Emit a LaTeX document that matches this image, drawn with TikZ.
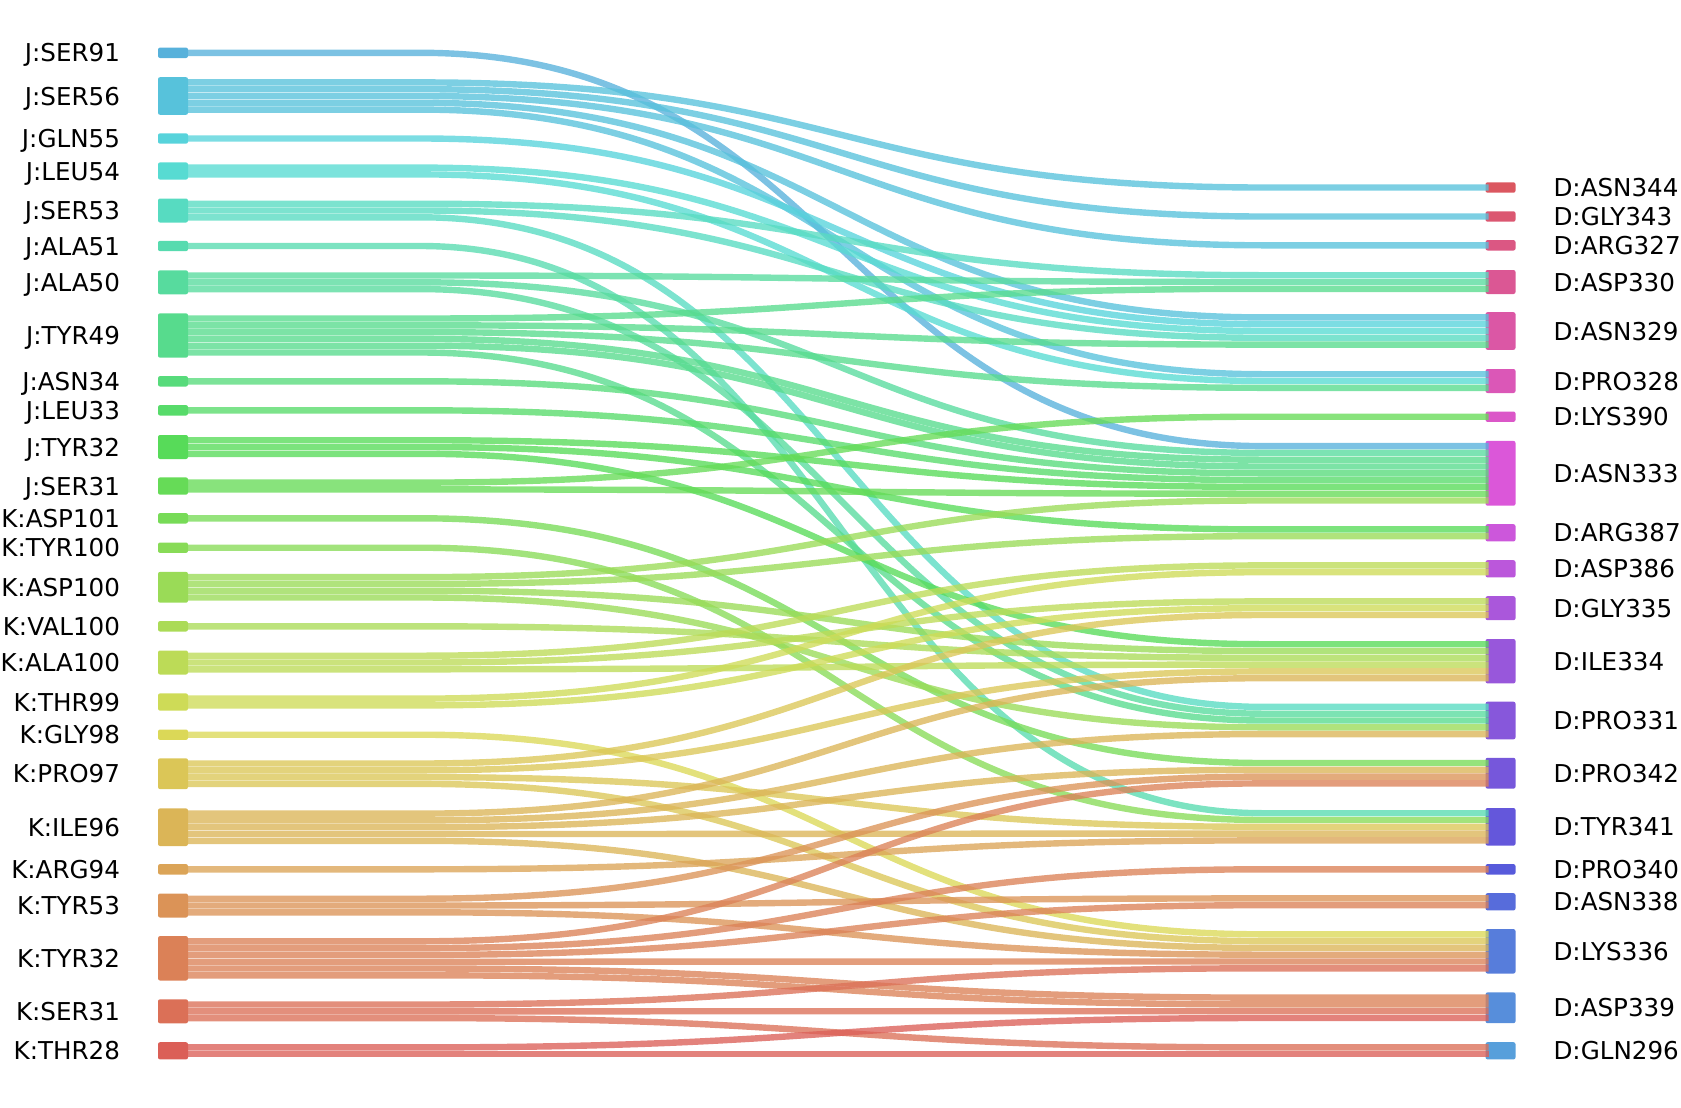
\documentclass[tikz,border=0pt]{standalone}
\usepackage{fontspec}
\setmainfont{DejaVu Sans}
\usetikzlibrary{positioning}

\tikzset{
  hue/.code={\pgfmathsetmacro\huedeg{3.6+7.826*#1}%
    \convertcolorspec{Hsb}{\huedeg,0.605,0.86}{rgb}\huergb%
    \definecolor{huecol}{rgb}{\huergb}},
}

\begin{document}
\begin{tikzpicture}[x=0.5pt, y=-0.5pt,
    bar/.style={rectangle, inner sep=0pt, outer sep=0pt, minimum width=15pt, minimum height={3.4pt*#1+1.8pt}, rounded corners=1pt, fill=huecol},
    resname/.style={inner sep=0pt, text height=9pt, text depth=0pt, font=\fontsize{12.3}{14}\selectfont},
    strand/.style={hue=#1, draw=huecol, draw opacity=0.78, line width=3.2pt,
      to path={-- ++(116pt,0) .. controls +(210pt,0) and +(-210pt,0) .. ([xshift=-111pt]\tikztotarget) -- ([xshift=1.5pt]\tikztotarget)}}]
  \useasboundingbox (0,0) rectangle (1681,1108);

  % left residues
  \node[hue=25, bar=1] (jser91) at (173,52.8) {};
  \node[hue=24, bar=5] (jser56) at (173,96) {};
  \node[hue=23, bar=1] (jgln55) at (173,138.5) {};
  \node[hue=22, bar=2] (jleu54) at (173,171) {};
  \node[hue=21, bar=3] (jser53) at (173,210.5) {};
  \node[hue=20, bar=1] (jala51) at (173,246) {};
  \node[hue=19, bar=3] (jala50) at (173,282.3) {};
  \node[hue=18, bar=6] (jtyr49) at (173,335.5) {};
  \node[hue=17, bar=1] (jasn34) at (173,381.3) {};
  \node[hue=16, bar=1] (jleu33) at (173,410.3) {};
  \node[hue=15, bar=3] (jtyr32) at (173,447) {};
  \node[hue=14, bar=2] (jser31) at (173,486) {};
  \node[hue=13, bar=1] (kasp101) at (173,518.3) {};
  \node[hue=12, bar=1] (ktyr100) at (173,547.7) {};
  \node[hue=11, bar=4] (kasp100) at (173,587.3) {};
  \node[hue=10, bar=1] (kval100) at (173,626.3) {};
  \node[hue=9, bar=3] (kala100) at (173,662.5) {};
  \node[hue=8, bar=2] (kthr99) at (173,702) {};
  \node[hue=7, bar=1] (kgly98) at (173,734.7) {};
  \node[hue=6, bar=4] (kpro97) at (173,773.7) {};
  \node[hue=5, bar=5] (kile96) at (173,827.2) {};
  \node[hue=4, bar=1] (karg94) at (173,869.3) {};
  \node[hue=3, bar=3] (ktyr53) at (173,905.5) {};
  \node[hue=2, bar=6] (ktyr32) at (173,958.3) {};
  \node[hue=1, bar=3] (kser31) at (173,1011.3) {};
  \node[hue=0, bar=2] (kthr28) at (173,1050.8) {};

  \node[resname, left=18.8pt of jser91] {J:SER91};
  \node[resname, left=18.8pt of jser56] {J:SER56};
  \node[resname, left=18.8pt of jgln55] {J:GLN55};
  \node[resname, left=18.8pt of jleu54] {J:LEU54};
  \node[resname, left=18.8pt of jser53] {J:SER53};
  \node[resname, left=18.8pt of jala51] {J:ALA51};
  \node[resname, left=18.8pt of jala50] {J:ALA50};
  \node[resname, left=18.8pt of jtyr49] {J:TYR49};
  \node[resname, left=18.8pt of jasn34] {J:ASN34};
  \node[resname, left=18.8pt of jleu33] {J:LEU33};
  \node[resname, left=18.8pt of jtyr32] {J:TYR32};
  \node[resname, left=18.8pt of jser31] {J:SER31};
  \node[resname, left=18.8pt of kasp101] {K:ASP101};
  \node[resname, left=18.8pt of ktyr100] {K:TYR100};
  \node[resname, left=18.8pt of kasp100] {K:ASP100};
  \node[resname, left=18.8pt of kval100] {K:VAL100};
  \node[resname, left=18.8pt of kala100] {K:ALA100};
  \node[resname, left=18.8pt of kthr99] {K:THR99};
  \node[resname, left=18.8pt of kgly98] {K:GLY98};
  \node[resname, left=18.8pt of kpro97] {K:PRO97};
  \node[resname, left=18.8pt of kile96] {K:ILE96};
  \node[resname, left=18.8pt of karg94] {K:ARG94};
  \node[resname, left=18.8pt of ktyr53] {K:TYR53};
  \node[resname, left=18.8pt of ktyr32] {K:TYR32};
  \node[resname, left=18.8pt of kser31] {K:SER31};
  \node[resname, left=18.8pt of kthr28] {K:THR28};

  % right residues
  \node[hue=45, bar=1] (dasn344) at (1500.5,187.5) {};
  \node[hue=44, bar=1] (dgly343) at (1500.5,216.5) {};
  \node[hue=43, bar=1] (darg327) at (1500.5,245.3) {};
  \node[hue=42, bar=3] (dasp330) at (1500.5,282) {};
  \node[hue=41, bar=5] (dasn329) at (1500.5,331) {};
  \node[hue=40, bar=3] (dpro328) at (1500.5,381) {};
  \node[hue=39, bar=1] (dlys390) at (1500.5,416.7) {};
  \node[hue=38, bar=9] (dasn333) at (1500.5,473.3) {};
  \node[hue=37, bar=2] (darg387) at (1500.5,532.8) {};
  \node[hue=36, bar=2] (dasp386) at (1500.5,568.8) {};
  \node[hue=35, bar=3] (dgly335) at (1500.5,608.2) {};
  \node[hue=34, bar=6] (dile334) at (1500.5,661.2) {};
  \node[hue=33, bar=5] (dpro331) at (1500.5,720.5) {};
  \node[hue=32, bar=4] (dpro342) at (1500.5,773.2) {};
  \node[hue=31, bar=5] (dtyr341) at (1500.5,826.8) {};
  \node[hue=30, bar=1] (dpro340) at (1500.5,869.3) {};
  \node[hue=29, bar=2] (dasn338) at (1500.5,901.8) {};
  \node[hue=28, bar=6] (dlys336) at (1500.5,951.3) {};
  \node[hue=27, bar=4] (dasp339) at (1500.5,1007.8) {};
  \node[hue=26, bar=2] (dgln296) at (1500.5,1050.8) {};

  \node[resname, right=18.8pt of dasn344] {D:ASN344};
  \node[resname, right=18.8pt of dgly343] {D:GLY343};
  \node[resname, right=18.8pt of darg327] {D:ARG327};
  \node[resname, right=18.8pt of dasp330] {D:ASP330};
  \node[resname, right=18.8pt of dasn329] {D:ASN329};
  \node[resname, right=18.8pt of dpro328] {D:PRO328};
  \node[resname, right=18.8pt of dlys390] {D:LYS390};
  \node[resname, right=18.8pt of dasn333] {D:ASN333};
  \node[resname, right=18.8pt of darg387] {D:ARG387};
  \node[resname, right=18.8pt of dasp386] {D:ASP386};
  \node[resname, right=18.8pt of dgly335] {D:GLY335};
  \node[resname, right=18.8pt of dile334] {D:ILE334};
  \node[resname, right=18.8pt of dpro331] {D:PRO331};
  \node[resname, right=18.8pt of dpro342] {D:PRO342};
  \node[resname, right=18.8pt of dtyr341] {D:TYR341};
  \node[resname, right=18.8pt of dpro340] {D:PRO340};
  \node[resname, right=18.8pt of dasn338] {D:ASN338};
  \node[resname, right=18.8pt of dlys336] {D:LYS336};
  \node[resname, right=18.8pt of dasp339] {D:ASP339};
  \node[resname, right=18.8pt of dgln296] {D:GLN296};

  % contacts
  \path
    ([yshift=-2.6pt]jser91.north east) edge[strand=25] ([yshift=-2.6pt]dasn333.north west)
    ([yshift=-2.6pt]jser56.north east) edge[strand=24] ([yshift=-2.6pt]dasn344.north west)
    ([yshift=-6pt]jser56.north east) edge[strand=24] ([yshift=-2.6pt]dgly343.north west)
    ([yshift=-9.4pt]jser56.north east) edge[strand=24] ([yshift=-2.6pt]darg327.north west)
    ([yshift=-12.8pt]jser56.north east) edge[strand=24] ([yshift=-2.6pt]dasn329.north west)
    ([yshift=-16.2pt]jser56.north east) edge[strand=24] ([yshift=-2.6pt]dpro328.north west)
    ([yshift=-2.6pt]jgln55.north east) edge[strand=23] ([yshift=-6pt]dasn329.north west)
    ([yshift=-2.6pt]jleu54.north east) edge[strand=22] ([yshift=-9.4pt]dasn329.north west)
    ([yshift=-6pt]jleu54.north east) edge[strand=22] ([yshift=-6pt]dpro328.north west)
    ([yshift=-2.6pt]jser53.north east) edge[strand=21] ([yshift=-2.6pt]dasp330.north west)
    ([yshift=-6pt]jser53.north east) edge[strand=21] ([yshift=-12.8pt]dasn329.north west)
    ([yshift=-9.4pt]jser53.north east) edge[strand=21] ([yshift=-2.6pt]dpro331.north west)
    ([yshift=-2.6pt]jala51.north east) edge[strand=20] ([yshift=-2.6pt]dtyr341.north west)
    ([yshift=-2.6pt]jala50.north east) edge[strand=19] ([yshift=-6pt]dasp330.north west)
    ([yshift=-6pt]jala50.north east) edge[strand=19] ([yshift=-6pt]dasn333.north west)
    ([yshift=-9.4pt]jala50.north east) edge[strand=19] ([yshift=-6pt]dpro331.north west)
    ([yshift=-2.6pt]jtyr49.north east) edge[strand=18] ([yshift=-9.4pt]dasp330.north west)
    ([yshift=-6pt]jtyr49.north east) edge[strand=18] ([yshift=-16.2pt]dasn329.north west)
    ([yshift=-9.4pt]jtyr49.north east) edge[strand=18] ([yshift=-9.4pt]dpro328.north west)
    ([yshift=-12.8pt]jtyr49.north east) edge[strand=18] ([yshift=-9.4pt]dasn333.north west)
    ([yshift=-16.2pt]jtyr49.north east) edge[strand=18] ([yshift=-12.8pt]dasn333.north west)
    ([yshift=-19.6pt]jtyr49.north east) edge[strand=18] ([yshift=-9.4pt]dpro331.north west)
    ([yshift=-2.6pt]jasn34.north east) edge[strand=17] ([yshift=-16.2pt]dasn333.north west)
    ([yshift=-2.6pt]jleu33.north east) edge[strand=16] ([yshift=-19.6pt]dasn333.north west)
    ([yshift=-2.6pt]jtyr32.north east) edge[strand=15] ([yshift=-23pt]dasn333.north west)
    ([yshift=-6pt]jtyr32.north east) edge[strand=15] ([yshift=-2.6pt]darg387.north west)
    ([yshift=-9.4pt]jtyr32.north east) edge[strand=15] ([yshift=-2.6pt]dile334.north west)
    ([yshift=-2.6pt]jser31.north east) edge[strand=14] ([yshift=-2.6pt]dlys390.north west)
    ([yshift=-6pt]jser31.north east) edge[strand=14] ([yshift=-26.4pt]dasn333.north west)
    ([yshift=-2.6pt]kasp101.north east) edge[strand=13] ([yshift=-2.6pt]dpro342.north west)
    ([yshift=-2.6pt]ktyr100.north east) edge[strand=12] ([yshift=-6pt]dtyr341.north west)
    ([yshift=-2.6pt]kasp100.north east) edge[strand=11] ([yshift=-29.8pt]dasn333.north west)
    ([yshift=-6pt]kasp100.north east) edge[strand=11] ([yshift=-6pt]darg387.north west)
    ([yshift=-9.4pt]kasp100.north east) edge[strand=11] ([yshift=-6pt]dile334.north west)
    ([yshift=-12.8pt]kasp100.north east) edge[strand=11] ([yshift=-12.8pt]dpro331.north west)
    ([yshift=-2.6pt]kval100.north east) edge[strand=10] ([yshift=-9.4pt]dile334.north west)
    ([yshift=-2.6pt]kala100.north east) edge[strand=9] ([yshift=-2.6pt]dasp386.north west)
    ([yshift=-6pt]kala100.north east) edge[strand=9] ([yshift=-2.6pt]dgly335.north west)
    ([yshift=-9.4pt]kala100.north east) edge[strand=9] ([yshift=-12.8pt]dile334.north west)
    ([yshift=-2.6pt]kthr99.north east) edge[strand=8] ([yshift=-6pt]dasp386.north west)
    ([yshift=-6pt]kthr99.north east) edge[strand=8] ([yshift=-6pt]dgly335.north west)
    ([yshift=-2.6pt]kgly98.north east) edge[strand=7] ([yshift=-2.6pt]dlys336.north west)
    ([yshift=-2.6pt]kpro97.north east) edge[strand=6] ([yshift=-9.4pt]dgly335.north west)
    ([yshift=-6pt]kpro97.north east) edge[strand=6] ([yshift=-16.2pt]dile334.north west)
    ([yshift=-9.4pt]kpro97.north east) edge[strand=6] ([yshift=-9.4pt]dtyr341.north west)
    ([yshift=-12.8pt]kpro97.north east) edge[strand=6] ([yshift=-6pt]dlys336.north west)
    ([yshift=-2.6pt]kile96.north east) edge[strand=5] ([yshift=-19.6pt]dile334.north west)
    ([yshift=-6pt]kile96.north east) edge[strand=5] ([yshift=-16.2pt]dpro331.north west)
    ([yshift=-9.4pt]kile96.north east) edge[strand=5] ([yshift=-6pt]dpro342.north west)
    ([yshift=-12.8pt]kile96.north east) edge[strand=5] ([yshift=-12.8pt]dtyr341.north west)
    ([yshift=-16.2pt]kile96.north east) edge[strand=5] ([yshift=-9.4pt]dlys336.north west)
    ([yshift=-2.6pt]karg94.north east) edge[strand=4] ([yshift=-16.2pt]dtyr341.north west)
    ([yshift=-2.6pt]ktyr53.north east) edge[strand=3] ([yshift=-9.4pt]dpro342.north west)
    ([yshift=-6pt]ktyr53.north east) edge[strand=3] ([yshift=-2.6pt]dasn338.north west)
    ([yshift=-9.4pt]ktyr53.north east) edge[strand=3] ([yshift=-12.8pt]dlys336.north west)
    ([yshift=-2.6pt]ktyr32.north east) edge[strand=2] ([yshift=-12.8pt]dpro342.north west)
    ([yshift=-6pt]ktyr32.north east) edge[strand=2] ([yshift=-2.6pt]dpro340.north west)
    ([yshift=-9.4pt]ktyr32.north east) edge[strand=2] ([yshift=-6pt]dasn338.north west)
    ([yshift=-12.8pt]ktyr32.north east) edge[strand=2] ([yshift=-16.2pt]dlys336.north west)
    ([yshift=-16.2pt]ktyr32.north east) edge[strand=2] ([yshift=-2.6pt]dasp339.north west)
    ([yshift=-19.6pt]ktyr32.north east) edge[strand=2] ([yshift=-6pt]dasp339.north west)
    ([yshift=-2.6pt]kser31.north east) edge[strand=1] ([yshift=-19.6pt]dlys336.north west)
    ([yshift=-6pt]kser31.north east) edge[strand=1] ([yshift=-9.4pt]dasp339.north west)
    ([yshift=-9.4pt]kser31.north east) edge[strand=1] ([yshift=-2.6pt]dgln296.north west)
    ([yshift=-2.6pt]kthr28.north east) edge[strand=0] ([yshift=-12.8pt]dasp339.north west)
    ([yshift=-6pt]kthr28.north east) edge[strand=0] ([yshift=-6pt]dgln296.north west)
  ;
\end{tikzpicture}
\end{document}
